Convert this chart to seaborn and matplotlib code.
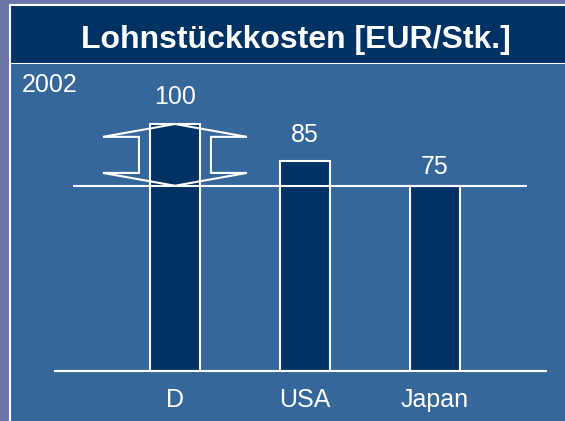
import numpy as np
import matplotlib
matplotlib.use("Agg")
import matplotlib.pyplot as plt
import seaborn as sns
from matplotlib.patches import Polygon

# data
countries = ['D', 'USA', 'Japan']
costs = [100, 85, 75]
year_label = '2002'
title = 'Lohnstückkosten [EUR/Stk.]'

panel_blue = '#35679b'
navy = '#003263'

sns.set_style('white')
plt.rcParams['font.family'] = ['Liberation Sans', 'DejaVu Sans']

fig = plt.figure(figsize=(5.65, 4.21), dpi=100)
fig.patch.set_facecolor('#6a76aa')

# title bar
tax = fig.add_axes([10 / 565, 357 / 421, 555 / 565, 59 / 421])
tax.set_facecolor(navy)
tax.set_xticks([])
tax.set_yticks([])
for s in ['top', 'left', 'bottom']:
    tax.spines[s].set_color('white')
    tax.spines[s].set_linewidth(1.5)
tax.spines['right'].set_visible(False)
tax.text(0.515, 0.41, title, color='white', fontsize=23, fontweight='bold',
         ha='center', va='center', transform=tax.transAxes)

# panel background
bg = fig.add_axes([10 / 565, 0, 555 / 565, 357 / 421])
bg.set_facecolor(panel_blue)
bg.set_xticks([])
bg.set_yticks([])
for s in ['right', 'bottom', 'top']:
    bg.spines[s].set_visible(False)
bg.spines['left'].set_color('white')
bg.spines['left'].set_linewidth(1.5)
bg.text(0.022, 0.94, year_label, color='white', fontsize=18, va='center',
        transform=bg.transAxes)

# chart
ax = fig.add_axes([10 / 565, 50 / 421, 555 / 565, 307 / 421])
ax.patch.set_alpha(0)
sns.barplot(x=countries, y=costs, color=navy, saturation=1, width=0.385,
            edgecolor='white', linewidth=1.5, ax=ax)
ax.set_xlim(-1.269, 3.0)
ax.set_ylim(0, 124.3)

# value labels, each sits a little differently above its bar
bars = ax.containers[0]
for i, pad in enumerate([10.5, 10, 5]):
    labels = [str(v) if j == i else '' for j, v in enumerate(costs)]
    ax.bar_label(bars, labels=labels, padding=pad, color='white', fontsize=18)

# baseline and reference line at the lowest value
ax.hlines(0, -0.93, 2.86, color='white', linewidth=1.5, zorder=1, clip_on=False)
ax.hlines(costs[2], -0.785, 2.71, color='white', linewidth=1.5, zorder=3)

# double arrow marking the gap between D and Japan
top, bot = costs[0], costs[2]
head = 5.2
ow, iw = 0.554, 0.277
arrow = [(0, top), (ow, top - head), (iw, top - head), (iw, bot + head),
         (ow, bot + head), (0, bot), (-ow, bot + head), (-iw, bot + head),
         (-iw, top - head), (-ow, top - head)]
ax.add_patch(Polygon(arrow, closed=True, fill=False, edgecolor='white',
                     linewidth=1.5, zorder=4))

ax.set_yticks([])
ax.set_ylabel('')
ax.tick_params(axis='x', length=0, pad=12, labelsize=18, labelcolor='white')
for s in ax.spines.values():
    s.set_visible(False)

fig.savefig('out.png', dpi=100, facecolor=fig.get_facecolor())
